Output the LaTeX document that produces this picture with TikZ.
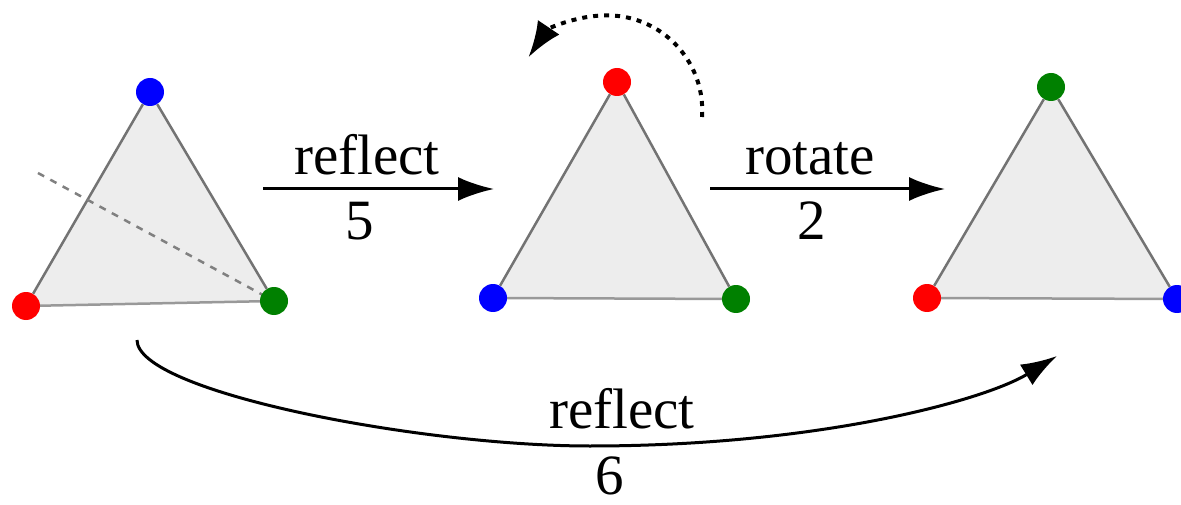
\documentclass[tikz,border=0pt]{standalone}
\usepackage{fontspec}
\setmainfont{Liberation Serif}
\usepackage{tikz}
\usetikzlibrary{arrows.meta,positioning,backgrounds}

\begin{document}
\begin{tikzpicture}[
  x=1pt, y=-1pt,
  vertex/.style={circle, inner sep=0pt, minimum size=28pt},
  side/.style={draw=black!55, line width=2.5pt},
  face/.style={fill=black!7},
  axis/.style={draw=gray, line width=2.5pt, dash pattern=on 7pt off 7pt},
  move/.style={draw=black, line width=3pt, -{Latex[length=36pt,width=24pt]}},
  spin/.style={draw=black, line width=4pt, dash pattern=on 5pt off 6pt, -{Latex[length=36pt,width=26pt]}},
  lbl/.style={font=\fontsize{57}{60}\selectfont, anchor=base, inner sep=0pt}
]
  \useasboundingbox (0,0) rectangle (1181,505);

  % Draw vertices
  \node[vertex, fill=blue] (b1) at (150,92) {};
  \node[vertex, fill=red] (r1) at (26,306) {};
  \node[vertex, fill=green!50!black] (g1) at (274,301) {};
  \node[vertex, fill=red] (r2) at (617,82) {};
  \node[vertex, fill=blue] (b2) at (493,298) {};
  \node[vertex, fill=green!50!black] (g2) at (736,299) {};
  \node[vertex, fill=green!50!black] (g3) at (1051,87) {};
  \node[vertex, fill=red] (r3) at (927,298) {};
  \node[vertex, fill=blue] (b3) at (1177,299) {};

  % Draw triangles
  \begin{pgfonlayer}{background}
    \fill[face] (b1.center) -- (r1.center) -- (g1.center) -- cycle;
    \fill[face] (r2.center) -- (b2.center) -- (g2.center) -- cycle;
    \fill[face] (g3.center) -- (r3.center) -- (b3.center) -- cycle;
    \draw[side] (b1) -- (r1);
    \draw[side] (b1) -- (g1);
    \draw[side, black!40] (r1) -- (g1);
    \draw[side] (r2) -- (b2);
    \draw[side] (r2) -- (g2);
    \draw[side, black!40] (b2) -- (g2);
    \draw[side] (g3) -- (r3);
    \draw[side] (g3) -- (b3);
    \draw[side, black!40] (r3) -- (b3);
    % Mirror line
    \coordinate (m1) at (38,173);
    \draw[axis] (m1) -- (g1.center);
  \end{pgfonlayer}

  % Top arrows
  \coordinate (f1s) at (263,189);
  \coordinate (f1e) at (494,189);
  \draw[move] (f1s) -- (f1e);
  \node[lbl] (f1t) at (367,175) {reflect};
  \node[lbl] (f1n) at (360,240) {5};

  \coordinate (t1s) at (710,189);
  \coordinate (t1e) at (945,189);
  \draw[move] (t1s) -- (t1e);
  \node[lbl] (t1t) at (810,175) {rotate};
  \node[lbl] (t1n) at (812,240) {2};

  % Rotation hint
  \coordinate (sp) at (702,117);
  \draw[spin] (sp) arc (4:-146:95);

  % Bottom arrow
  \coordinate (f2s) at (137,340);
  \coordinate (f2m) at (590,446);
  \coordinate (f2e) at (1057,356);
  \draw[move] (f2s) .. controls (137,392) and (420,446) .. (f2m)
    .. controls (820,446) and (985,400) .. (f2e);
  \node[lbl] (f2t) at (622,428) {reflect};
  \node[lbl] (f2n) at (610,494) {6};
\end{tikzpicture}
\end{document}
